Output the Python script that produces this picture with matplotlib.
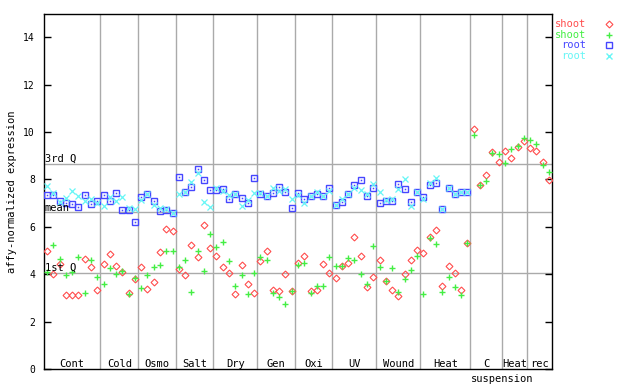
import numpy as np
import matplotlib
matplotlib.use("Agg")
import matplotlib.pyplot as plt

# groups along the x axis (number of samples in each)
group_labels = ["Cont", "Cold", "Osmo", "Salt", "Dry", "Gen", "Oxi", "UV",
                "Wound", "Heat", "C suspension", "Heat", "rec"]
group_sizes = [9, 6, 6, 6, 7, 6, 6, 7, 7, 8, 5, 4, 4]

# shoot replicates (all 81 samples)
shoot_rep1 = [4.98, 4.01, 4.43, 3.12, 3.12, 3.12, 4.63, 4.30, 3.33,
              4.42, 4.84, 4.35, 4.11, 3.21, 3.78,
              4.30, 3.38, 3.66, 4.94, 5.91, 5.81,
              4.22, 3.97, 5.22, 4.73, 6.06, 5.11,
              4.77, 4.30, 4.05, 3.16, 4.37, 3.57, 3.19,
              4.54, 4.96, 3.32, 3.28, 3.99, 3.28,
              4.46, 4.75, 3.28, 3.32, 4.42, 4.04,
              3.83, 4.33, 4.46, 5.56, 4.75, 3.45, 3.87,
              4.59, 3.70, 3.32, 3.07, 3.99, 4.59, 5.01,
              4.89, 5.56, 5.85, 3.49, 4.33, 4.04, 3.32, 5.30,
              10.11, 7.75, 8.17, 9.16, 8.72,
              9.18, 8.89, 9.35, 9.63,
              9.31, 9.18, 8.72, 7.96]
shoot_rep2 = [4.08, 5.22, 4.64, 3.97, 4.11, 4.73, 3.19, 4.60, 3.88,
              3.59, 4.26, 4.01, 4.14, 3.18, 3.84,
              3.41, 3.96, 4.30, 4.38, 4.97, 4.97,
              4.30, 4.59, 3.25, 4.97, 4.13, 5.69,
              5.15, 5.35, 4.55, 3.49, 3.95, 3.15, 4.04,
              4.73, 4.59, 3.19, 3.02, 2.73, 3.28,
              4.37, 4.46, 3.19, 3.49, 3.49, 4.71,
              4.33, 4.33, 4.68, 4.59, 3.99, 3.57, 5.18,
              4.29, 3.70, 4.25, 3.24, 3.78, 4.16, 4.75,
              3.15, 5.52, 5.26, 3.24, 3.87, 3.45, 3.11, 5.30,
              9.86, 7.75, 7.92, 9.11, 9.06,
              8.68, 9.27, 9.40, 9.77,
              9.65, 9.48, 8.59, 8.30]

# root replicates (first 68 samples only)
root_rep1 = [7.34, 7.34, 7.09, 7.00, 6.95, 6.82, 7.34, 6.96, 7.09,
             7.34, 7.09, 7.43, 6.71, 6.71, 6.19,
             7.24, 7.37, 7.09, 6.66, 6.71, 6.57,
             8.10, 7.46, 7.67, 8.44, 7.96, 7.55,
             7.55, 7.58, 7.16, 7.37, 7.20, 6.99, 8.05,
             7.40, 7.30, 7.42, 7.67, 7.47, 6.78,
             7.41, 7.16, 7.29, 7.38, 7.30, 7.62,
             6.91, 7.05, 7.37, 7.75, 7.96, 7.30, 7.62,
             6.99, 7.09, 7.09, 7.79, 7.58, 7.03, 7.45,
             7.24, 7.78, 7.85, 6.75, 7.65, 7.40, 7.45, 7.49]
root_rep2 = [7.73, 7.44, 7.05, 7.20, 7.51, 7.30, 7.09, 7.17, 6.99,
             6.86, 7.26, 7.09, 7.24, 6.78, 6.75,
             7.13, 7.37, 6.92, 6.80, 6.76, 6.57,
             7.37, 7.45, 7.88, 8.26, 7.05, 6.82,
             7.62, 7.53, 7.33, 7.37, 6.86, 7.13, 7.42,
             7.41, 7.30, 7.62, 7.51, 7.59, 7.16,
             7.33, 6.99, 7.30, 7.45, 7.30, 7.51,
             6.91, 7.17, 7.37, 7.62, 7.54, 7.38, 7.79,
             7.49, 7.13, 7.16, 7.58, 8.00, 6.86, 7.45,
             7.16, 7.83, 8.05, 6.75, 7.65, 7.40, 7.45, 7.49]

# reference levels
ref_names = ["3rd Q", "mean", "1st Q"]
ref_values = [8.67, 6.61, 4.07]

RED = "#ff4d4d"
GREEN = "#44ee44"
BLUE = "#4646ff"
CYAN = "#66f6f6"
MONO = "DejaVu Sans Mono"

fig = plt.figure(figsize=(6.4, 3.84), dpi=100)
ax = fig.add_axes([44 / 640, 1 - 369 / 384, 508 / 640, 355.4 / 384])

n_total = sum(group_sizes)
bounds = np.cumsum([0] + group_sizes)

# grid: group separators and reference levels
for b in bounds[1:-1]:
    ax.axvline(b, color="#aaaaaa", lw=1.0, zorder=1)
for name, val in zip(ref_names, ref_values):
    ax.axhline(val, color="#aaaaaa", lw=1.0, zorder=1)
    ax.text(0.12, val + 0.06, name, fontsize=7.5, family=MONO,
            va="baseline", ha="left", zorder=5)

x_shoot = np.arange(len(shoot_rep1)) + 0.5
x_root = np.arange(len(root_rep1)) + 0.5

ax.plot(x_shoot, shoot_rep1, ls="none", marker="D", ms=3.5, mfc="none",
        mec=RED, mew=0.8, zorder=3)
ax.plot(x_shoot, shoot_rep2, ls="none", marker="+", ms=5, mec=GREEN,
        mew=1.0, zorder=3)
ax.plot(x_root, root_rep1, ls="none", marker="s", ms=4.3, mfc="none",
        mec=BLUE, mew=1.0, zorder=3)
ax.plot(x_root, root_rep1, ls="none", marker="s", ms=1.1, mfc=BLUE,
        mec=BLUE, mew=0, zorder=3)
ax.plot(x_root, root_rep2, ls="none", marker="x", ms=4.3, mec=CYAN,
        mew=0.9, zorder=3)

ax.set_xlim(0, n_total)
ax.set_ylim(0, 15)
ax.set_xticks([])
ax.set_yticks(np.arange(0, 15, 2))
ax.tick_params(axis="y", direction="in", length=5, width=1, left=True,
               right=True, labelsize=7, pad=6.5)
for lab in ax.get_yticklabels():
    lab.set_family(MONO)
for sp in ax.spines.values():
    sp.set_linewidth(1.0)

# group labels inside the bottom of the plot
for lab, lo, hi in zip(group_labels, bounds[:-1], bounds[1:]):
    words = lab.split(" ")
    ax.text((lo + hi) / 2, 0.1, words[0], fontsize=7.5, family=MONO,
            ha="center", va="baseline", zorder=5)
    if len(words) > 1:
        ax.text(hi, -0.55, " ".join(words[1:]), fontsize=7.5, family=MONO,
                ha="center", va="baseline", clip_on=False)

fig.text(11.7 / 640, 0.5, "affy-normalized expression", rotation=90,
         fontsize=7.5, family=MONO, ha="center", va="center")

# legend at the top right
legend_items = [("shoot", RED, "D"), ("shoot", GREEN, "+"),
                ("root", BLUE, "s"), ("root", CYAN, "x")]
for k, (name, col, mk) in enumerate(legend_items):
    yy = 1 - (24 + 10.7 * k) / 384
    fig.text(586 / 640, yy, name, color=col, fontsize=7.5, family=MONO,
             ha="right", va="center")
    if mk == "D":
        fig.lines.append(plt.Line2D([609 / 640], [yy], ls="none", marker=mk,
                                    ms=3.5, mfc="none", mec=col, mew=0.8,
                                    transform=fig.transFigure))
    elif mk == "s":
        fig.lines.append(plt.Line2D([609 / 640], [yy], ls="none", marker=mk,
                                    ms=4.3, mfc="none", mec=col, mew=1.0,
                                    transform=fig.transFigure))
    else:
        fig.lines.append(plt.Line2D([609 / 640], [yy], ls="none", marker=mk,
                                    ms=4.5, mec=col, mew=1.0,
                                    transform=fig.transFigure))

fig.savefig("out.png", dpi=100)
